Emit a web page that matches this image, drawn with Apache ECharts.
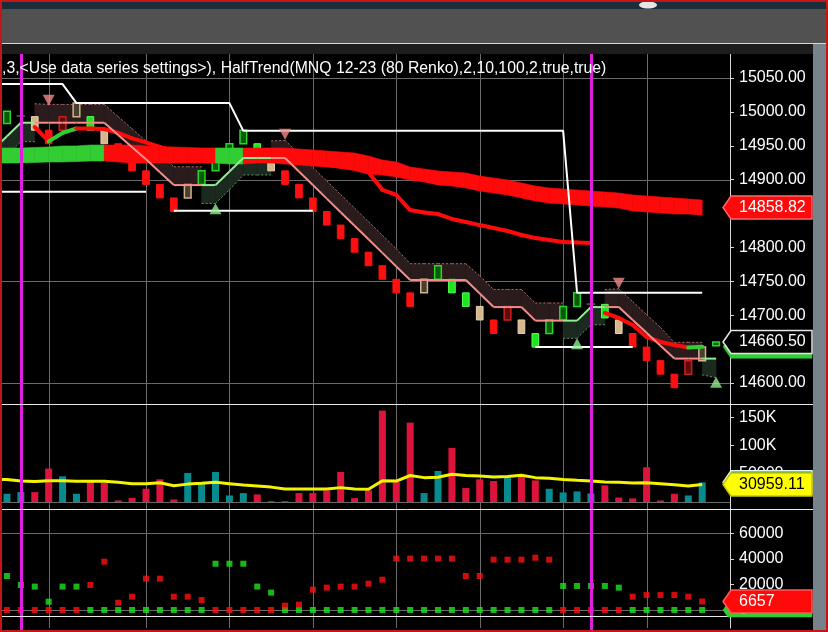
<!DOCTYPE html>
<html>
<head>
<meta charset="utf-8">
<title>MNQ 12-23 (80 Renko) - HalfTrend</title>
<script src="https://cdn.jsdelivr.net/npm/echarts@6/dist/echarts.min.js"></script>
<style>
  html, body { margin: 0; padding: 0; background: #000; }
  #chart { width: 828px; height: 632px; }
</style>
</head>
<body>
<div id="chart"></div>
<script>
// ---------------- Renko bricks, MNQ 12-23, 80-tick bricks ----------------
const brickOpen = [
  14983, 14994, 14993, 14973, 14973, 14993, 14993, 14973, 14953, 14933,
  14913, 14893, 14873, 14873, 14893, 14913, 14933, 14953, 14953, 14933,
  14913, 14893, 14873, 14853, 14833, 14813, 14793, 14773, 14753, 14733,
  14733, 14753, 14753, 14733, 14713, 14693, 14693, 14693, 14673, 14673,
  14693, 14713, 14716.5, 14716, 14693, 14673, 14653, 14633, 14613, 14613,
  14633, 14655
];
const brickClose = [
  15001, 14994, 14973, 14953, 14993, 15013, 14973, 14953, 14933, 14913,
  14893, 14873, 14853, 14893, 14913, 14933, 14953, 14973, 14933, 14913,
  14893, 14873, 14853, 14833, 14813, 14793, 14773, 14753, 14733, 14713,
  14753, 14773, 14733, 14713, 14693, 14673, 14713, 14673, 14653, 14693,
  14713, 14733, 14716.5, 14696, 14673, 14653, 14633, 14613, 14593, 14633,
  14653, 14660.5
];
// bar colouring state: G green, R red, T tan
const brickTone = [
  'G','T','T','R','R','T','G','T','R','R',
  'R','R','R','T','G','G','G','G','G','T',
  'R','R','R','R','R','R','R','R','R','R',
  'T','G','G','G','T','R','R','T','G','G',
  'G','G','T','G','T','R','R','R','R','R',
  'T','G'
];

// ---------------- HalfTrend(2,10,100,2) ----------------
const htLine = [
  14964, 14984, 14984, 14984, 14984, 14984, 14984, 14984, 14966, 14948,
  14930, 14911, 14892, 14892, 14892, 14892, 14912, 14932, 14932, 14932,
  14932, 14912, 14892, 14872, 14852, 14832, 14812, 14792, 14772, 14752,
  14752, 14752, 14752, 14752, 14732, 14712, 14712, 14712, 14692, 14692,
  14692, 14692, 14712, 14712, 14712, 14693, 14674, 14655, 14636, 14636,
  14636, 14636
];
const htTrend = [
   1,  1,  1, -1, -1, -1, -1, -1, -1, -1,
  -1, -1, -1, -1, -1,  1,  1,  1,  1,  1,
  -1, -1, -1, -1, -1, -1, -1, -1, -1, -1,
  -1, -1, -1, -1, -1, -1, -1, -1, -1, -1,
  -1,  1,  1,  1, -1, -1, -1, -1, -1, -1,
  -1,  1
];
const htWidth = [
  28, 28, 28, 27, 27, 27, 27, 27, 27, 27,
  27, 27, 27, 27, 27, 27, 27, 25, 25, 25,
  26, 26, 26, 26, 26, 26, 26, 26, 26, 24,
  24, 24, 24, 24, 26, 26, 26, 26, 26, 26,
  26, 26, 26, 26, 27, 27, 27, 27, 24, 24,
  24, 28
];
const channelHigh = [
  15041, 15041, 15041, 15041, 15041, 15013, 15013, 15013, 15013, 15013,
  15013, 15013, 15013, 15013, 15013, 15013, 15013, 14972, 14972, 14972,
  14972, 14972, 14972, 14972, 14972, 14972, 14972, 14972, 14972, 14972,
  14972, 14972, 14972, 14972, 14972, 14972, 14972, 14972, 14972, 14972,
  14972, 14733, 14733, 14733, 14733, 14733, 14733, 14733, 14733, 14733,
  14733, null
];
const channelLow = [
  14882, 14882, 14882, 14882, 14882, 14882, 14882, 14882, 14882, 14882,
  14882, null, 14854, 14854, 14854, 14854, 14854, 14854, 14854, 14854,
  14854, 14854, 14854, null, null, null, null, null, null, null,
  null, null, null, null, null, null, null, null, 14653, 14653,
  14653, 14653, 14653, 14653, 14653, 14653, null, null, null, null,
  null, null
];
const sellArrows = [[3, 15017], [20, 14967], [44, 14747]];
const buyArrows  = [[15, 14857], [41, 14658], [51, 14601]];

// ---------------- moving averages ----------------
const ribbonTop = [
  14946.7, 14946.7, 14947.5, 14948.2, 14949.7, 14949.7, 14951.1, 14951.1, 14951.1, 14951.1,
  14949.7, 14948.9, 14948.2, 14947.5, 14946.7, 14946.7, 14946.7, 14946.7, 14946.7, 14946.7,
  14946.7, 14945.2, 14943.8, 14942.3, 14940.8, 14939.3, 14934.9, 14929.0, 14926.1, 14918.7,
  14915.7, 14912.8, 14911.3, 14909.8, 14905.4, 14902.5, 14899.5, 14895.1, 14890.7, 14887.7,
  14886.2, 14884.8, 14883.3, 14881.8, 14880.3, 14877.4, 14875.9, 14874.4, 14873.0, 14871.5,
  14870.0
];
const ribbonBottom = [
  14924.6, 14924.6, 14925.3, 14926.1, 14926.1, 14926.8, 14927.5, 14927.5, 14926.1, 14924.6,
  14924.6, 14924.6, 14924.6, 14924.6, 14924.6, 14924.6, 14923.1, 14923.1, 14924.6, 14924.6,
  14923.1, 14921.6, 14920.2, 14918.7, 14917.2, 14914.3, 14908.4, 14906.9, 14903.9, 14899.5,
  14896.6, 14892.1, 14890.7, 14887.7, 14883.3, 14880.3, 14877.4, 14873.0, 14868.5, 14865.6,
  14864.1, 14862.6, 14861.1, 14859.6, 14858.2, 14853.8, 14852.3, 14850.8, 14849.3, 14849.3,
  14847.64
];
const ribbonState = [
   1,  1,  1,  1,  1,  1,  1,  1, -1, -1,
  -1, -1, -1, -1, -1, -1,  1,  1, -1, -1,
  -1, -1, -1, -1, -1, -1, -1, -1, -1, -1,
  -1, -1, -1, -1, -1, -1, -1, -1, -1, -1,
  -1, -1, -1, -1, -1, -1, -1, -1, -1, -1,
  -1
];
const sessionMA = [
  null, null, 14977.7, 14956.5, 14968.9, 14975.5, 14975.5, 14974.8, 14969.0, 14961.0,
  14955.0, 14948.5, 14941.0, 14938.0, 14936.0, 14934.0, 14933.0, 14932.0, 14931.0, 14930.0,
  14929.0, 14927.0, 14925.0, 14922.0, 14919.0, 14916.0, 14911.0, 14885.0, 14877.4, 14855.2,
  14851.6, 14849.3, 14842.0, 14837.5, 14833.0, 14828.7, 14824.3, 14818.4, 14814.0, 14811.0,
  14808.0, 14807.3, 14806.6, 14703.3, 14695.9, 14685.6, 14667.9, 14660.5, 14656.0, 14652.3,
  14653.4, null
];
const sessionBreakBars = [1, 42];
const timeGridBars = [3, 10, 16, 22, 28, 34, 40, 46];

// ---------------- volume ----------------
const volume = [
  14600, 17500, 17500, 59300, 45500, 14600, 35400, 33600, 2700, 7400,
  23500, 40200, 4500, 51500, 32500, 53300, 11600, 15800, 13400, 1500,
  1500, 15800, 15800, 20500, 53300, 6800, 20500, 162000, 35400, 140700,
  15800, 55000, 96000, 24700, 40200, 37200, 43100, 47300, 38400, 23500,
  17000, 18800, 15200, 29500, 8000, 6300, 61600, 2700, 14600, 11600,
  34800
];
const volumeMA = [
  40000, 37200, 36300, 37800, 37800, 36800, 36800, 36800, 35000, 32500,
  32500, 34000, 28900, 31700, 33300, 35000, 32500, 30000, 28200, 26400,
  22900, 22900, 22900, 22900, 25500, 22900, 22600, 37800, 37200, 47000,
  43200, 43800, 49100, 46800, 46200, 44400, 45300, 47300, 43200, 42000,
  40000, 38400, 37200, 35400, 34800, 33600, 34000, 32500, 30700, 28300,
  30959.11
];

// ---------------- lower indicator (buy / sell pressure) ----------------
const buyPressure = [
  26600, 19600, 18300, 6500, 18300, 18300, 0, 0, 0, 0,
  0, 0, 0, 0, 0, 36200, 36200, 36200, 18300, 13600,
  0, 0, 0, 0, 0, 0, 0, 0, 0, 0,
  0, 0, 0, 0, 0, 0, 0, 0, 0, 0,
  18800, 18800, 18800, 18800, 17500, 0, 0, 0, 0, 0,
  0
];
const sellPressure = [
  0, 0, 0, 0, 0, 0, 19600, 37800, 5700, 10400,
  24500, 24500, 10400, 10400, 7800, 0, 0, 0, 0, 0,
  3400, 4200, 15900, 17500, 18300, 18300, 20600, 23700, 40200, 40200,
  40200, 40200, 40200, 26600, 26600, 39400, 39400, 39400, 40900, 39400,
  0, 0, 0, 0, 0, 10400, 11700, 11700, 11700, 10400,
  6657
];

// ---------------- axis ticks ----------------
const priceTicks = [14600, 14650, 14700, 14750, 14800, 14850, 14900, 14950, 15000, 15050];
const priceGridLevels = [14600, 14750, 14900, 15050];
const volumeTicks = [50000, 100000, 150000];
const pressureTicks = [0, 20000, 40000, 60000];
const pressureGridLevels = [0, 60000];

const titleText = ',3,<Use data series settings>), HalfTrend(MNQ 12-23 (80 Renko),2,10,100,2,true,true)';

// ======================================================================
const FONT = '"Liberation Sans", Arial, sans-serif';
const GREEN = '#32cd32', RED = '#ff0a0a';
const TONES = {
  G: { body: '#1ee61e', edge: '#55ff55', hollow: '#0b590b', rim: '#2ad62a' },
  R: { body: '#ff1010', edge: '#ff1010', hollow: '#5c0a0a', rim: '#cc2020' },
  T: { body: '#d6b68c', edge: '#ead2b0', hollow: '#4a3e31', rim: '#d2b48c' }
};
const idx = arr => arr.map((_, i) => [i, 0]);
const withLead = arr => [[-0.5, arr[0]]].concat(arr.map((v, i) => [i, v == null ? '-' : v]));

function prevVertex(arr, i) {
  // the first bar is extended half a bar to the left edge
  if (i > 0) return [i - 1, arr[i - 1]];
  return [-0.5, arr[0] - (arr[1] - arr[0]) * 0.5];
}

function renderBrick(params, api) {
  const i = api.value(0);
  const o = brickOpen[i], c = brickClose[i];
  const pO = api.coord([i, o]), pC = api.coord([i, c]);
  const w = api.size([1, 0])[0] * 0.48;
  const x = pO[0] - w / 2;
  if (o === c) {
    return { type: 'line', shape: { x1: x - 1, y1: pO[1], x2: x + w + 1, y2: pO[1] },
             style: { stroke: '#8c8c8c', lineWidth: 1 } };
  }
  const t = TONES[brickTone[i]];
  const up = c > o;
  return {
    type: 'rect',
    shape: { x: x, y: Math.min(pO[1], pC[1]), width: w, height: Math.abs(pO[1] - pC[1]) },
    style: up ? { fill: t.hollow, stroke: t.rim, lineWidth: 1.5 }
              : { fill: t.body, stroke: t.edge, lineWidth: 1 }
  };
}

function renderChannel(params, api) {
  const i = api.value(0);
  const dir = htTrend[i];
  const off = j => (dir < 0 ? htWidth[j] : -htWidth[j]);
  const pv = prevVertex(htLine, i);
  const jp = Math.max(i - 1, 0);
  const p1 = api.coord(pv), p2 = api.coord([i, htLine[i]]);
  const p3 = api.coord([i, htLine[i] + off(i)]), p4 = api.coord([pv[0], pv[1] + off(jp)]);
  const fill = dir < 0 ? '#2a1c1c' : '#1b291e';
  return { type: 'group', children: [
    { type: 'polygon', shape: { points: [p1, p2, p3, p4] }, style: { fill: fill, stroke: fill, lineWidth: 0.6 } },
    { type: 'line', shape: { x1: p4[0], y1: p4[1], x2: p3[0], y2: p3[1] },
      style: { stroke: dir < 0 ? '#a86b6b' : '#5f8e63', lineWidth: 1, lineDash: [2, 2] } }
  ]};
}

function renderHalfTrend(params, api) {
  const i = api.value(0);
  const a = api.coord(prevVertex(htLine, i)), b = api.coord([i, htLine[i]]);
  return { type: 'line', shape: { x1: a[0], y1: a[1], x2: b[0], y2: b[1] },
           style: { stroke: htTrend[i] > 0 ? '#90ee90' : '#f48c8a', lineWidth: 2 } };
}

function renderSessionMA(params, api) {
  const i = api.value(0);
  if (i === 0 || sessionMA[i] == null || sessionMA[i - 1] == null) return;
  if (sessionBreakBars.indexOf(i - 1) >= 0) return;
  const a = api.coord([i - 1, sessionMA[i - 1]]), b = api.coord([i, sessionMA[i]]);
  return { type: 'line', shape: { x1: a[0], y1: a[1], x2: b[0], y2: b[1] },
           style: { stroke: sessionMA[i] > sessionMA[i - 1] ? GREEN : RED, lineWidth: 4, lineCap: 'round' } };
}

function renderRibbon(params, api) {
  const i = api.value(0);
  const j = Math.max(i - 1, 0), xp = i > 0 ? i - 1 : -0.5;
  const pts = [api.coord([xp, ribbonTop[j]]), api.coord([i, ribbonTop[i]]),
               api.coord([i, ribbonBottom[i]]), api.coord([xp, ribbonBottom[j]])];
  const col = ribbonState[i] > 0 ? GREEN : RED;
  return { type: 'polygon', shape: { points: pts }, style: { fill: col, stroke: col, lineWidth: 0.6 } };
}

function vRule(color, width) {
  return (params, api) => {
    const x = Math.round(api.coord([api.value(0), 0])[0]) + (width % 2 ? 0.5 : 0);
    const cs = params.coordSys;
    return { type: 'line', shape: { x1: x, y1: cs.y, x2: x, y2: cs.y + cs.height + (width > 1 ? 8 : 0) },
             style: { stroke: color, lineWidth: width } };
  };
}
function hRule(params, api) {
  const y = Math.round(api.coord([0, api.value(1)])[1]) + 0.5;
  const cs = params.coordSys;
  return { type: 'line', shape: { x1: cs.x, y1: y, x2: cs.x + cs.width, y2: y },
           style: { stroke: '#6a6a6a', lineWidth: 1 } };
}
function rules(g, levels, z) {
  const out = [
    { type: 'custom', xAxisIndex: g, yAxisIndex: g, silent: true, z: z,
      data: timeGridBars.map(b => [b, 0]), renderItem: vRule('#6a6a6a', 1) }
  ];
  if (levels) out.push({ type: 'custom', xAxisIndex: g, yAxisIndex: g, silent: true, z: z,
      data: levels.map(v => [0, v]), renderItem: hRule });
  return out;
}
function sessionRules(g) {
  return { type: 'custom', xAxisIndex: g, yAxisIndex: g, silent: true, z: 20,
           data: sessionBreakBars.map(b => [b, 0]), renderItem: vRule('#e01ee0', 3) };
}

function yAxisFor(g, min, max, ticks, fmt) {
  return {
    gridIndex: g, type: 'value', position: 'right', min: min, max: max,
    axisLine: { show: true, onZero: false, lineStyle: { color: '#d8d8d8', width: 1 } },
    axisTick: { show: true, length: 4, lineStyle: { color: '#d8d8d8' }, customValues: ticks },
    axisLabel: { show: true, color: '#ffffff', fontSize: 16, fontFamily: FONT, margin: 9,
                 customValues: ticks, formatter: fmt },
    splitLine: { show: false }
  };
}

const chart = echarts.init(document.getElementById('chart'));
const option = {
  backgroundColor: '#000000',
  animation: false,
  grid: [
    { left: 0, top: 54, width: 730, height: 350 },
    { left: 0, top: 404, width: 730, height: 105 },
    { left: 0, top: 509, width: 730, height: 119 }
  ],
  xAxis: [0, 1, 2].map(g => ({ gridIndex: g, type: 'value', min: -0.5, max: 52, show: false,
                                axisLine: { onZero: false } })),
  yAxis: [
    yAxisFor(0, 14569.02, 15085.41, priceTicks, v => Number(v).toFixed(2)),
    yAxisFor(1, -12411, 173759, volumeTicks, v => (v >= 100000 ? (v / 1000) + 'K' : String(v))),
    yAxisFor(2, -14081, 79011, pressureTicks, v => String(v))
  ],
  series: [].concat(
    rules(0, priceGridLevels, 1),
    [
      { type: 'custom', name: 'HalfTrend channel', xAxisIndex: 0, yAxisIndex: 0, silent: true, z: 2,
        data: idx(htLine), renderItem: renderChannel },
      { type: 'custom', name: 'Renko', xAxisIndex: 0, yAxisIndex: 0, silent: true, z: 3,
        data: idx(brickOpen), renderItem: renderBrick },
      { type: 'custom', name: 'Session MA', xAxisIndex: 0, yAxisIndex: 0, silent: true, z: 4,
        data: idx(sessionMA), renderItem: renderSessionMA },
      { type: 'custom', name: 'Trend ribbon', xAxisIndex: 0, yAxisIndex: 0, silent: true, z: 5,
        data: idx(ribbonTop), renderItem: renderRibbon },
      { type: 'custom', name: 'HalfTrend', xAxisIndex: 0, yAxisIndex: 0, silent: true, z: 6,
        data: idx(htLine), renderItem: renderHalfTrend },
      { type: 'line', name: 'Channel high', xAxisIndex: 0, yAxisIndex: 0, silent: true, z: 7,
        data: withLead(channelHigh), symbol: 'none', connectNulls: false,
        lineStyle: { color: '#ffffff', width: 2 } },
      { type: 'line', name: 'Channel low', xAxisIndex: 0, yAxisIndex: 0, silent: true, z: 7,
        data: withLead(channelLow), symbol: 'none', connectNulls: false,
        lineStyle: { color: '#ffffff', width: 2 } },
      { type: 'scatter', name: 'Sell', xAxisIndex: 0, yAxisIndex: 0, silent: true, z: 8,
        data: sellArrows, symbol: 'triangle', symbolRotate: 180, symbolSize: [12, 11],
        itemStyle: { color: '#f08a8a' } },
      { type: 'scatter', name: 'Buy', xAxisIndex: 0, yAxisIndex: 0, silent: true, z: 8,
        data: buyArrows, symbol: 'triangle', symbolSize: [12, 11],
        itemStyle: { color: '#90ee90' } },
      sessionRules(0)
    ],
    rules(1, [0], 1),
    [
      { type: 'bar', name: 'Volume', xAxisIndex: 1, yAxisIndex: 1, silent: true, z: 3, barWidth: 7,
        data: volume.map((v, i) => ({ value: [i, v],
          itemStyle: { color: brickClose[i] >= brickOpen[i] ? '#078b8e' : '#dc143c' } })) },
      { type: 'line', name: 'Volume MA', xAxisIndex: 1, yAxisIndex: 1, silent: true, z: 4,
        data: withLead(volumeMA), symbol: 'none', lineStyle: { color: '#f4f400', width: 3 } },
      sessionRules(1)
    ],
    rules(2, pressureGridLevels, 1),
    [
      { type: 'scatter', name: 'Buy pressure', xAxisIndex: 2, yAxisIndex: 2, silent: true, z: 3,
        data: buyPressure.map((v, i) => [i, v]), symbol: 'rect', symbolSize: 6,
        itemStyle: { color: '#1ee51e' } },
      { type: 'scatter', name: 'Sell pressure', xAxisIndex: 2, yAxisIndex: 2, silent: true, z: 4,
        data: sellPressure.map((v, i) => [i, v]), symbol: 'rect', symbolSize: 6,
        itemStyle: { color: '#ff1010' } },
      sessionRules(2)
    ]
  )
};
chart.setOption(option);

// ---------------- frame, title and value tags ----------------
function tag(y, text, fill, stroke, color, z, clipY) {
  const h = 11.5, tip = 723, x0 = 731, x1 = 812;
  const top = y - h;
  let pts;
  if (clipY != null && y + h > clipY) {
    const xc = tip + (x0 - tip) * Math.min(1, (clipY - y) / h);
    pts = [[tip, y], [x0, top], [x1, top], [x1, clipY], [xc, clipY]];
  } else {
    pts = [[tip, y], [x0, top], [x1, top], [x1, y + h], [x0, y + h]];
  }
  return [
    { type: 'polygon', z: z, shape: { points: pts },
      style: { fill: fill, stroke: stroke || fill, lineWidth: stroke ? 1.5 : 0.5 } },
    { type: 'text', z: z + 1, x: 739, y: y,
      style: { text: text, fill: color, font: '16px ' + FONT, verticalAlign: 'middle', align: 'left' } }
  ];
}
const py = (g, v) => chart.convertToPixel({ yAxisIndex: g }, v);
const last = volume.length - 1;
const ribbonMid = (ribbonTop[last] + ribbonBottom[last]) / 2;
const lastPrice = brickClose[brickClose.length - 1];

const graphics = [
  { type: 'rect', z: 50, shape: { x: 0, y: 0, width: 828, height: 9 }, style: { fill: '#1b2c3a' } },
  { type: 'ellipse', z: 51, shape: { cx: 648, cy: 5, rx: 9, ry: 3.5 }, style: { fill: '#e6e6e6' } },
  { type: 'rect', z: 50, shape: { x: 0, y: 9, width: 828, height: 34 }, style: { fill: '#515151' } },
  { type: 'line', z: 50, shape: { x1: 0, y1: 43.5, x2: 828, y2: 43.5 }, style: { stroke: '#d8d8d8', lineWidth: 1 } },
  { type: 'rect', z: 50, shape: { x: 0, y: 44, width: 828, height: 10 }, style: { fill: '#1d1d1d' } },
  { type: 'rect', z: 50, shape: { x: 813, y: 44, width: 13, height: 588 }, style: { fill: '#78828c' } },
  { type: 'line', z: 50, shape: { x1: 0, y1: 404.5, x2: 813, y2: 404.5 }, style: { stroke: '#e8e8e8', lineWidth: 1 } },
  { type: 'line', z: 50, shape: { x1: 0, y1: 509.5, x2: 813, y2: 509.5 }, style: { stroke: '#e8e8e8', lineWidth: 1 } },
  { type: 'line', z: 50, shape: { x1: 0, y1: 616.5, x2: 730, y2: 616.5 }, style: { stroke: '#e8e8e8', lineWidth: 1 } },
  { type: 'text', z: 50, x: 2, y: 68.5,
    style: { text: titleText, fill: '#ffffff', font: '15.8px ' + FONT, verticalAlign: 'middle', align: 'left' } },
  { type: 'rect', z: 90, shape: { x: 1, y: 1, width: 826, height: 630 },
    style: { fill: null, stroke: '#c41616', lineWidth: 2 } }
].concat(
  tag(py(0, sessionMA[last]), sessionMA[last].toFixed(2), GREEN, null, '#ffffff', 60),
  tag(py(0, lastPrice), lastPrice.toFixed(2), '#000000', '#e6e6e6', '#ffffff', 62),
  tag(py(0, ribbonMid), ribbonMid.toFixed(2), RED, '#ff6a6a', '#ffffff', 64),
  tag(py(1, volume[last]), String(volume[last]), '#078b8e', '#dff8f8', '#ffffff', 60),
  tag(py(1, volumeMA[last]), volumeMA[last].toFixed(2), '#ffff00', '#c8c800', '#000000', 62),
  tag(py(2, buyPressure[last]), String(buyPressure[last]), GREEN, null, '#ffffff', 60, 617),
  tag(py(2, sellPressure[last]), String(sellPressure[last]), RED, '#ff5a5a', '#ffffff', 62)
);
chart.setOption({ graphic: graphics });
</script>
</body>
</html>
